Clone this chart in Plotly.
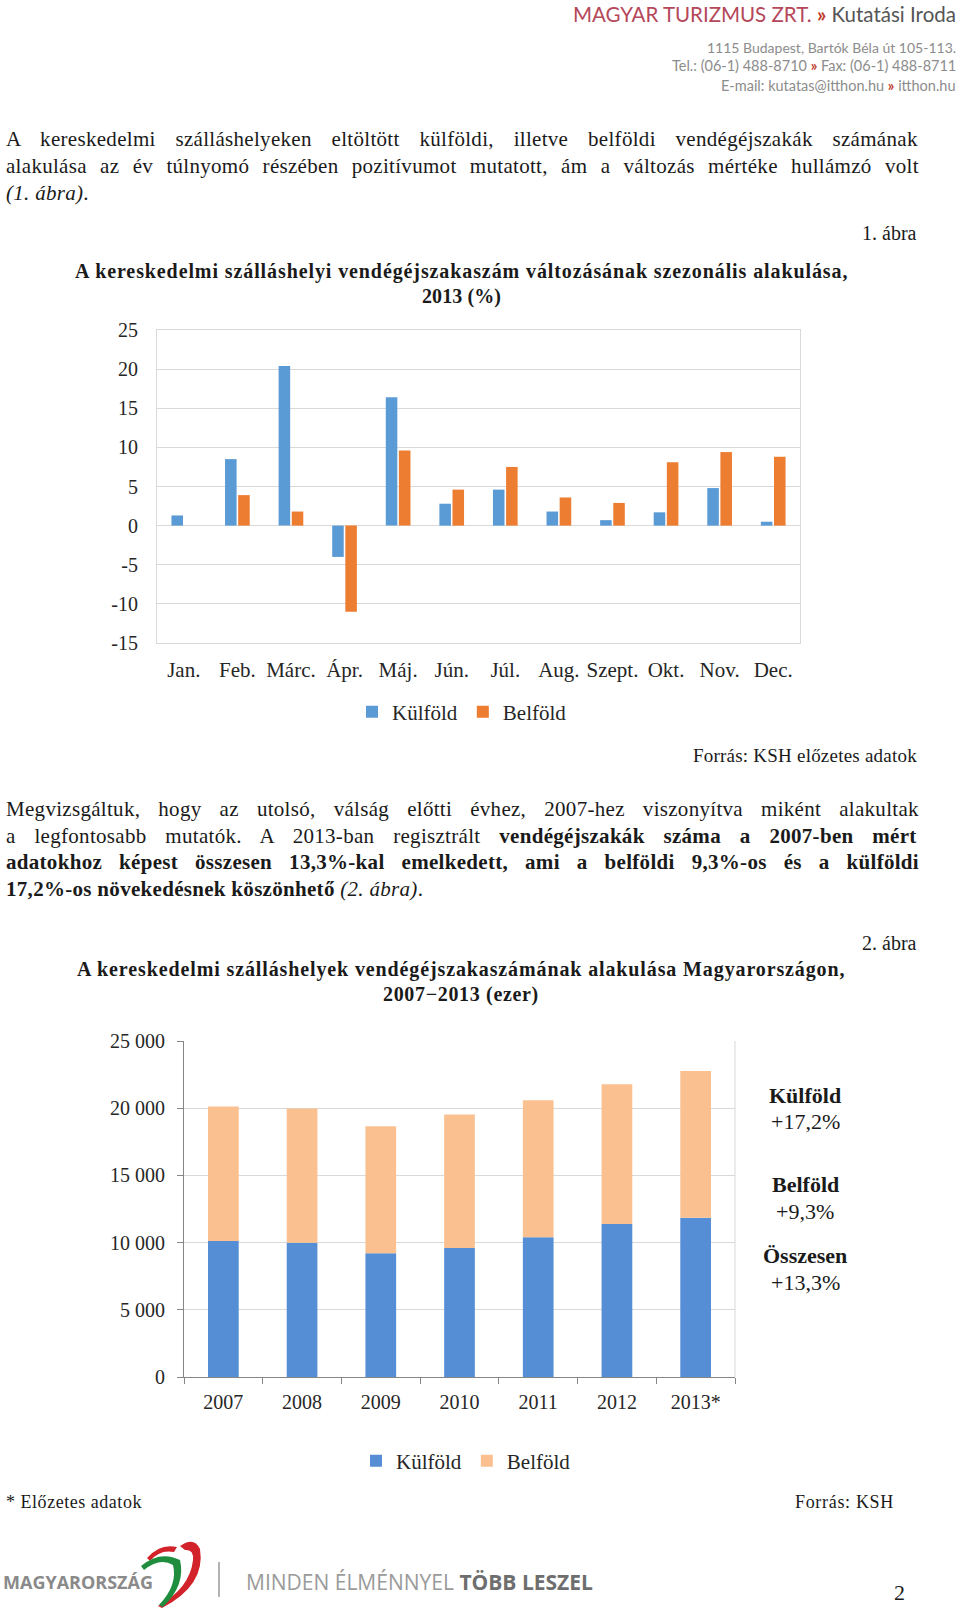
import plotly.graph_objects as go

W, H = 960, 1611

# ---------------- data ----------------
months = ["Jan.", "Feb.", "Márc.", "Ápr.", "Máj.", "Jún.", "Júl.", "Aug.", "Szept.", "Okt.", "Nov.", "Dec."]
kulfold_change_2013 = [1.3, 8.5, 20.4, -4.0, 16.4, 2.8, 4.6, 1.8, 0.7, 1.7, 4.8, 0.5]
belfold_change_2013 = [0.0, 3.9, 1.8, -11.0, 9.6, 4.6, 7.5, 3.6, 2.9, 8.1, 9.4, 8.8]
chart1_yticks = [-15, -10, -5, 0, 5, 10, 15, 20, 25]
chart1_yticklabels = ["-15", "-10", "-5", "0", "5", "10", "15", "20", "25"]

years = ["2007", "2008", "2009", "2010", "2011", "2012", "2013*"]
kulfold_nights = [10110, 9980, 9200, 9600, 10390, 11380, 11850]
belfold_nights = [10010, 9990, 9460, 9930, 10200, 10400, 10920]
chart2_tickvals = [0, 5000, 10000, 15000, 20000, 25000]
chart2_ticktext = ["0", "5 000", "10 000", "15 000", "20 000", "25 000"]
growth_names = ["Külföld", "Belföld", "Összesen"]
growth_values = ["+17,2%", "+9,3%", "+13,3%"]

# ---------------- text metrics (Times / Liberation Serif) ----------------
def _mk(lower, upper, extra):
    d = {}
    for ch, w in zip("abcdefghijklmnopqrstuvwxyz", lower):
        d[ch] = w
    for ch, w in zip("ABCDEFGHIJKLMNOPQRSTUVWXYZ", upper):
        d[ch] = w
    for ch in "0123456789":
        d[ch] = 500
    d.update(extra)
    return d

REG = _mk([444, 500, 444, 500, 444, 333, 500, 500, 278, 278, 500, 278, 778, 500, 500, 500, 500, 333, 389, 278, 500, 500, 722, 500, 500, 444],
          [722, 667, 667, 722, 611, 556, 722, 722, 333, 389, 722, 611, 889, 722, 722, 556, 722, 667, 556, 611, 722, 722, 944, 722, 722, 611],
          {" ": 250, ",": 250, ".": 250, "-": 333, "(": 333, ")": 333, "%": 833, "*": 500, ":": 278, "+": 564, "−": 564})
BOLD = _mk([500, 556, 444, 556, 444, 333, 500, 556, 278, 333, 556, 278, 833, 556, 500, 556, 556, 444, 389, 333, 556, 500, 722, 500, 500, 444],
           [722, 667, 722, 722, 667, 611, 778, 778, 389, 500, 778, 667, 944, 722, 778, 611, 778, 722, 556, 667, 722, 722, 1000, 722, 722, 667],
           {" ": 250, ",": 250, ".": 250, "-": 333, "(": 333, ")": 333, "%": 1000, "*": 500, ":": 333, "+": 570, "−": 570})
ITAL = _mk([500, 500, 444, 500, 444, 278, 500, 500, 278, 278, 444, 278, 722, 500, 500, 500, 500, 389, 389, 278, 500, 444, 667, 444, 444, 389],
           [611, 611, 667, 722, 611, 611, 722, 722, 333, 444, 667, 556, 833, 667, 722, 611, 722, 611, 500, 556, 722, 611, 833, 611, 556, 556],
           {" ": 250, ",": 250, ".": 250, "-": 333, "(": 333, ")": 333, "%": 833})
BASE = {"á": "a", "é": "e", "í": "i", "ó": "o", "ö": "o", "ő": "o", "ú": "u", "ü": "u", "ű": "u",
        "Á": "A", "É": "E", "Í": "I", "Ó": "O", "Ö": "O", "Ő": "O", "Ú": "U", "Ü": "U", "Ű": "U"}
TABLES = {"r": REG, "b": BOLD, "i": ITAL}


def seg_width(segs, size, ls=0.0):
    w = 0.0
    n = 0
    for st, s in segs:
        t = TABLES[st]
        for c in s:
            w += t.get(BASE.get(c, c), 500)
            n += 1
    return w * size / 1000.0 + ls * n


def seg_html(segs):
    out = []
    for st, s in segs:
        if st == "b":
            out.append("<b>" + s + "</b>")
        elif st == "i":
            out.append("<i>" + s + "</i>")
        else:
            out.append(s)
    return "".join(out)


def spaces(segs):
    return sum(s.count(" ") for _, s in segs)


SERIF = "Liberation Serif"
SANS = "Lato"
TXT = "#1a1a1a"

fig = go.Figure()


def add_text(x, y, html, size, family=SERIF, color=TXT, xanchor="left", yanchor="middle"):
    fig.add_annotation(x=x / W, y=1 - y / H, xref="paper", yref="paper", text=html,
                       showarrow=False, xanchor=xanchor, yanchor=yanchor, borderpad=0,
                       font=dict(family=family, size=size, color=color))


def justified(segs, y, size, left=5, right=918, ls=0.3, justify=True):
    if justify:
        ws = (right - left - seg_width(segs, size, ls)) / max(spaces(segs), 1)
    else:
        ws = 0
    html = '<span style="letter-spacing:%.2fpx;word-spacing:%.2fpx">%s</span>' % (ls, ws, seg_html(segs))
    add_text(left, y, html, size)


def fitted(segs, x, y, size, target, xanchor="left", color=TXT):
    n = sum(len(s) for _, s in segs)
    ls = (target - seg_width(segs, size)) / n
    html = '<span style="letter-spacing:%.2fpx">%s</span>' % (ls, seg_html(segs))
    add_text(x, y, html, size, xanchor=xanchor, color=color)


# ---------------- charts ----------------
fig.add_trace(go.Bar(x=months, y=kulfold_change_2013, name="Külföld", marker=dict(color="#5B9BD5", line=dict(width=0)),
                     xaxis="x", yaxis="y", legend="legend", hoverinfo="skip"))
fig.add_trace(go.Bar(x=months, y=belfold_change_2013, name="Belföld", marker=dict(color="#ED7D31", line=dict(width=0)),
                     xaxis="x", yaxis="y", legend="legend", hoverinfo="skip"))
fig.add_trace(go.Bar(x=years, y=kulfold_nights, name="Külföld", marker=dict(color="#558ED5", line=dict(width=0)),
                     xaxis="x2", yaxis="y2", legend="legend2", offsetgroup="s", width=0.39, offset=-0.195,
                     hoverinfo="skip"))
fig.add_trace(go.Bar(x=years, y=belfold_nights, base=kulfold_nights, name="Belföld",
                     marker=dict(color="#FAC090", line=dict(width=0)),
                     xaxis="x2", yaxis="y2", legend="legend2", offsetgroup="s", width=0.39, offset=-0.195,
                     hoverinfo="skip"))

GRID = "#D9D9D9"
AX = "#868686"
TICKC = "#262626"

fig.update_layout(
    width=W, height=H, margin=dict(l=0, r=0, t=0, b=0, pad=0, autoexpand=False),
    paper_bgcolor="white", plot_bgcolor="white",
    barmode="group", bargap=0.51, bargroupgap=0.12,
    xaxis=dict(domain=[157 / W, 800 / W], anchor="y", type="category", showgrid=False,
               showline=True, mirror=True, linecolor=GRID, linewidth=1, ticks="",
               tickfont=dict(family=SERIF, size=21, color=TICKC), ticklabelstandoff=8, fixedrange=True),
    yaxis=dict(domain=[1 - 643 / H, 1 - 330 / H], anchor="x", range=[-15, 25], tickvals=chart1_yticks,
               ticktext=chart1_yticklabels,
               showgrid=True, gridcolor=GRID, zeroline=True, zerolinecolor=GRID, zerolinewidth=1,
               showline=True, mirror=True, linecolor=GRID, ticks="",
               tickfont=dict(family=SERIF, size=20, color=TICKC), ticklabelstandoff=14, fixedrange=True),
    xaxis2=dict(domain=[184 / W, 735 / W], anchor="y2", type="category", showgrid=False,
                showline=True, linecolor=AX, linewidth=1, ticks="outside", tickson="boundaries",
                ticklen=6, tickcolor=AX, tickfont=dict(family=SERIF, size=20, color=TICKC),
                ticklabelstandoff=7, fixedrange=True),
    yaxis2=dict(domain=[1 - 1377 / H, 1 - 1041 / H], anchor="x2", range=[0, 25000],
                tickvals=chart2_tickvals, ticktext=chart2_ticktext, showgrid=True, gridcolor=GRID,
                zeroline=False, showline=True, linecolor=AX, ticks="outside", ticklen=6, tickcolor=AX,
                tickfont=dict(family=SERIF, size=20, color=TICKC), ticklabelstandoff=8, fixedrange=True),
    legend=dict(orientation="h", x=462 / W, xanchor="center", y=1 - 712 / H, yanchor="middle",
                font=dict(family=SERIF, size=21, color=TICKC), bgcolor="rgba(0,0,0,0)", traceorder="normal",
                itemwidth=30),
    legend2=dict(orientation="h", x=466 / W, xanchor="center", y=1 - 1461 / H, yanchor="middle",
                 font=dict(family=SERIF, size=21, color=TICKC), bgcolor="rgba(0,0,0,0)", traceorder="normal",
                 itemwidth=30),
    showlegend=True,
)

# right border of chart 2
fig.add_shape(type="line", xref="x2 domain", yref="y2 domain", x0=1, x1=1, y0=0, y1=1,
              line=dict(color=GRID, width=1))

# ---------------- header ----------------
add_text(957, 14,
         '<span style="color:#B5475A">MAGYAR TURIZMUS ZRT.</span> <span style="color:#C0392B"><b>»</b></span> '
         '<span style="color:#555555">Kutatási Iroda</span>', 20.5, family=SANS, xanchor="right")
add_text(957, 47, "1115 Budapest, Bartók Béla út 105-113.", 14, family=SANS, color="#8C8C8C", xanchor="right")
add_text(957, 66, 'Tel.: (06-1) 488-8710 <span style="color:#C0392B"><b>»</b></span> Fax: (06-1) 488-8711', 14.5,
         family=SANS, color="#8C8C8C", xanchor="right")
add_text(957, 85, 'E-mail: kutatas@itthon.hu <span style="color:#C0392B"><b>»</b></span> itthon.hu', 14.5,
         family=SANS, color="#8C8C8C", xanchor="right")

# ---------------- paragraph 1 ----------------
BS = 21
justified([("r", "A kereskedelmi szálláshelyeken eltöltött külföldi, illetve belföldi vendégéjszakák számának")], 139, BS)
justified([("r", "alakulása az év túlnyomó részében pozitívumot mutatott, ám a változás mértéke hullámzó volt")], 166, BS)
justified([("i", "(1. ábra)"), ("r", ".")], 193, BS, justify=False)

add_text(918, 233, "1. ábra", 20, xanchor="right")
fitted([("b", "A kereskedelmi szálláshelyi vendégéjszakaszám változásának szezonális alakulása,")],
       461, 271, 20, 775, xanchor="center")
fitted([("b", "2013 (%)")], 461, 297, 20, 79, xanchor="center")

fitted([("r", "Forrás: KSH előzetes adatok")], 918, 755, 19, 224, xanchor="right")

# ---------------- paragraph 2 ----------------
justified([("r", "Megvizsgáltuk, hogy az utolsó, válság előtti évhez, 2007-hez viszonyítva miként alakultak")], 809, BS)
justified([("r", "a legfontosabb mutatók. A 2013-ban regisztrált "), ("b", "vendégéjszakák száma a 2007-ben mért")], 836, BS)
justified([("b", "adatokhoz képest összesen 13,3%-kal emelkedett, ami a belföldi 9,3%-os és a külföldi")], 862, BS)
justified([("b", "17,2%-os növekedésnek köszönhető"), ("r", " "), ("i", "(2. ábra)"), ("r", ".")], 889, BS, justify=False)

add_text(918, 943, "2. ábra", 20, xanchor="right")
fitted([("b", "A kereskedelmi szálláshelyek vendégéjszakaszámának alakulása Magyarországon,")],
       461, 969, 20, 770, xanchor="center")
fitted([("b", "2007−2013 (ezer)")], 461, 995, 20, 156, xanchor="center")

# growth annotations beside chart 2
g_y = [(1095, 1121), (1184, 1211), (1255, 1282)]
for name, val, (y1, y2) in zip(growth_names, growth_values, g_y):
    add_text(805, y1, "<b>" + name + "</b>", 22, xanchor="center")
    add_text(805, y2, val, 22, xanchor="center")

# footnotes
fitted([("r", "* Előzetes adatok")], 5, 1502, 18, 136)
fitted([("r", "Forrás: KSH")], 895, 1502, 18, 99, xanchor="right")

# ---------------- footer ----------------
add_text(2, 1582, "<b>MAGYARORSZÁG</b>", 18, family="Open Sans", color="#8A8A8A")


def ppath(cmds):
    out = []
    for c in cmds:
        if isinstance(c, str):
            out.append(c)
        else:
            out.append("%.5f,%.5f" % (c[0] / W, 1 - c[1] / H))
    return " ".join(out)


# stylised ribbon logo (decoration)
fig.add_shape(type="path", xref="paper", yref="paper", line=dict(width=0), fillcolor="#D2232A",
              path=ppath(["M", (162, 1608), "Q", (206, 1585), (200, 1549), "Q", (194, 1536), (180, 1546),
                          "L", (185, 1550), "Q", (194, 1549), (193, 1560), "Q", (190, 1588), (158, 1606), "Z"]))
fig.add_shape(type="path", xref="paper", yref="paper", line=dict(width=0), fillcolor="#D2232A",
              path=ppath(["M", (147, 1558), "Q", (160, 1543), (177, 1547), "L", (174, 1552),
                          "Q", (160, 1549), (150, 1561), "Z"]))
fig.add_shape(type="path", xref="paper", yref="paper", line=dict(width=0), fillcolor="#1E8E3E",
              path=ppath(["M", (141, 1566), "Q", (160, 1550), (180, 1560), "Q", (186, 1585), (163, 1607),
                          "L", (159, 1605), "Q", (178, 1585), (173, 1565), "Q", (160, 1557), (144, 1570), "Z"]))
fig.add_shape(type="line", xref="paper", yref="paper", x0=219 / W, x1=219 / W, y0=1 - 1562 / H, y1=1 - 1597 / H,
              line=dict(color="#9A9A9A", width=1.5))
add_text(245, 1582, '<span style="color:#9A9A9A">MINDEN ÉLMÉNNYEL </span><b><span style="color:#6E6E6E">TÖBB LESZEL</span></b>',
         21, family="Open Sans", color="#9A9A9A")
add_text(899, 1592, "2", 22, xanchor="center")

fig.write_html("out.html", config={"displayModeBar": False},
               post_script="document.body.style.margin='0px';document.body.style.padding='0px';")
